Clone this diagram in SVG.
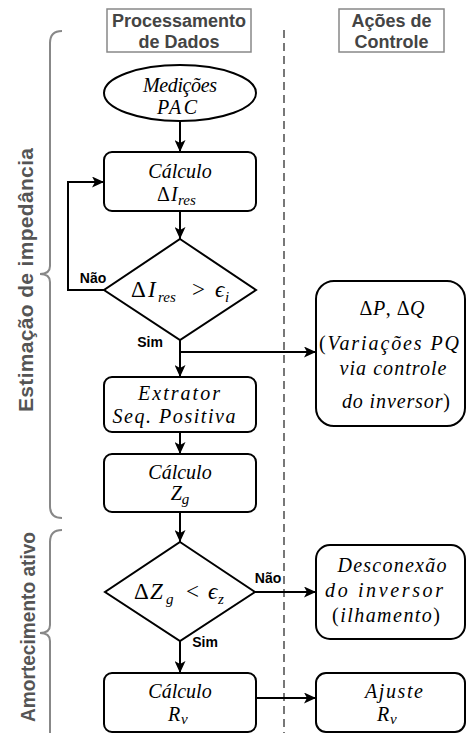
<svg xmlns="http://www.w3.org/2000/svg" width="467" height="733" viewBox="0 0 467 733">
<style>
.node{fill:#fff;stroke:#000;stroke-width:2}
.hdr{fill:#fff;stroke:#888;stroke-width:1.5}
.ht{font-family:"Liberation Sans",Arial,sans-serif;font-weight:bold;font-size:18px;fill:#444;text-anchor:middle}
.lab{font-family:"Liberation Sans",Arial,sans-serif;font-weight:bold;font-size:14px;fill:#000;text-anchor:middle}
.side{font-family:"Liberation Sans",Arial,sans-serif;font-weight:bold;font-size:21px;fill:#555;text-anchor:middle}
.m{font-family:"Liberation Serif","Times New Roman",serif;font-style:italic;font-size:20px;fill:#000;text-anchor:middle}
.f{font-family:"Liberation Serif","Times New Roman",serif;font-style:italic;font-size:20px;fill:#000}
.big{font-size:23px}
.up{font-style:normal}
.sub{font-size:15px}
.con{fill:none;stroke:#000;stroke-width:2}
.br{fill:none;stroke:#888;stroke-width:2}
</style>
<defs>
<marker id="ah" markerUnits="userSpaceOnUse" markerWidth="13" markerHeight="11" refX="12" refY="5.5" orient="auto">
<path d="M0,0 L12,5.5 L0,11 L3,5.5 z" fill="#000"/>
</marker>
</defs>
<rect width="467" height="733" fill="#fff"/>
<g id="headers">
<rect class="hdr" x="107" y="9" width="144" height="43"/>
<text class="ht" x="179" y="27">Processamento</text>
<text class="ht" x="179" y="48">de Dados</text>
<rect class="hdr" x="339" y="9" width="105" height="43"/>
<text class="ht" x="391.5" y="27">Ações de</text>
<text class="ht" x="391.5" y="48">Controle</text>
</g>
<g id="divider">
<line x1="284" y1="30" x2="284" y2="733" stroke="#777" stroke-width="2" stroke-dasharray="8 5"/>
</g>
<g id="brackets">
<path class="br" d="M62,31 Q50,31 50,43 L50,266 Q50,274 40,274 Q50,274 50,282 L50,506 Q50,518 62,518"/>
<path class="br" d="M62,530 Q50,530 50,542 L50,625 Q50,633 40,633 Q50,633 50,641 L50,740"/>
<text class="side" transform="translate(33,280) rotate(-90)" textLength="264" lengthAdjust="spacing">Estimação de  impedância</text>
<text class="side" transform="translate(35,627) rotate(-90)" font-size="19.5" textLength="190" lengthAdjust="spacingAndGlyphs">Amortecimento ativo</text>
</g>
<g id="connectors">
<line class="con" x1="180" y1="122" x2="180" y2="152" marker-end="url(#ah)"/>
<line class="con" x1="180" y1="211" x2="180" y2="239" marker-end="url(#ah)"/>
<polyline class="con" points="104,290 68,290 68,182 104,182" marker-end="url(#ah)"/>
<line class="con" x1="180" y1="340" x2="180" y2="377" marker-end="url(#ah)"/>
<line class="con" x1="180" y1="352" x2="316" y2="352" marker-end="url(#ah)"/>
<line class="con" x1="180" y1="432" x2="180" y2="454" marker-end="url(#ah)"/>
<line class="con" x1="180" y1="512" x2="180" y2="542" marker-end="url(#ah)"/>
<line class="con" x1="255" y1="592" x2="316" y2="592" marker-end="url(#ah)"/>
<line class="con" x1="180" y1="641" x2="180" y2="673" marker-end="url(#ah)"/>
<line class="con" x1="256" y1="698" x2="316" y2="698" marker-end="url(#ah)"/>
<text class="lab" x="93" y="283">Não</text>
<text class="lab" x="150" y="347">Sim</text>
<text class="lab" x="268" y="583">Não</text>
<text class="lab" x="205" y="647">Sim</text>
</g>
<g id="medicoes">
<ellipse class="node" cx="180" cy="93" rx="76" ry="28"/>
<text class="m" x="180" y="92" font-size="19" textLength="74" lengthAdjust="spacing">Medições</text>
<text class="m" x="177" y="114" font-size="21" textLength="40" lengthAdjust="spacing">PAC</text>
</g>
<g id="calc-ires">
<rect class="node" x="104" y="152" width="152" height="59" rx="8"/>
<text class="m" x="180" y="178">Cálculo</text>
<text class="f" y="201"><tspan class="up" x="157">Δ</tspan><tspan x="171">I</tspan><tspan class="sub" x="178" dy="4">res</tspan></text>
</g>
<g id="dec-ires">
<polygon class="node" points="180,239 256,290 180,340 104,290"/>
<text class="f big" y="297"><tspan class="up" x="131">Δ</tspan><tspan x="148">I</tspan><tspan class="sub" x="158" dy="5">res</tspan><tspan class="up" x="192" dy="-5">&gt;</tspan><tspan x="215">ϵ</tspan><tspan class="sub" x="225" dy="5">i</tspan></text>
</g>
<g id="dpq">
<rect class="node" x="316" y="281" width="149" height="145" rx="18"/>
<text class="m" x="392" y="315" textLength="65" lengthAdjust="spacing"><tspan class="up">Δ</tspan>P<tspan class="up">, Δ</tspan>Q</text>
<text class="m" x="389" y="350" textLength="140" lengthAdjust="spacing"><tspan class="up">(</tspan>Variações PQ</text>
<text class="m" x="393" y="375" textLength="107" lengthAdjust="spacing">via controle</text>
<text class="m" x="396" y="408" textLength="108" lengthAdjust="spacing">do inversor<tspan class="up">)</tspan></text>
</g>
<g id="extrator">
<rect class="node" x="104" y="377" width="152" height="55" rx="8"/>
<text class="m" x="179" y="400" textLength="82" lengthAdjust="spacing">Extrator</text>
<text class="m" x="174" y="423" textLength="123" lengthAdjust="spacing">Seq. Positiva</text>
</g>
<g id="calc-zg">
<rect class="node" x="104" y="454" width="152" height="58" rx="8"/>
<text class="m" x="180" y="479">Cálculo</text>
<text class="m" x="180" y="500">Z<tspan class="sub" dy="4">g</tspan></text>
</g>
<g id="dec-zg">
<polygon class="node" points="180,542 255,592 180,641 105,592"/>
<text class="f big" y="599"><tspan class="up" x="134">Δ</tspan><tspan x="150">Z</tspan><tspan class="sub" x="166" dy="5">g</tspan><tspan class="up" x="186" dy="-5">&lt;</tspan><tspan x="208">ϵ</tspan><tspan class="sub" x="218" dy="5">z</tspan></text>
</g>
<g id="desconexao">
<rect class="node" x="316" y="545" width="149" height="94" rx="14"/>
<text class="m" x="392" y="572" textLength="109" lengthAdjust="spacing">Desconexão</text>
<text class="m" x="384" y="597" textLength="118" lengthAdjust="spacing">do inversor</text>
<text class="m" x="386" y="622" textLength="108" lengthAdjust="spacing"><tspan class="up">(</tspan>ilhamento<tspan class="up">)</tspan></text>
</g>
<g id="calc-rv">
<rect class="node" x="104" y="673" width="152" height="59" rx="8"/>
<text class="m" x="180" y="698">Cálculo</text>
<text class="f" y="721"><tspan x="168">R</tspan><tspan class="sub" x="181" dy="3">v</tspan></text>
</g>
<g id="ajuste">
<rect class="node" x="316" y="673" width="149" height="59" rx="10"/>
<text class="m" x="394" y="698" textLength="58" lengthAdjust="spacing">Ajuste</text>
<text class="f" y="721"><tspan x="377">R</tspan><tspan class="sub" x="390" dy="3">v</tspan></text>
</g>
</svg>
